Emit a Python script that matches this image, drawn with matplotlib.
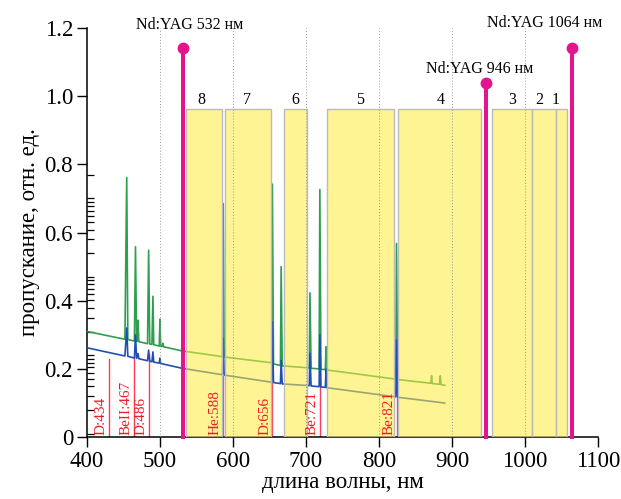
import numpy as np
import matplotlib
matplotlib.use("Agg")
import matplotlib.pyplot as plt
from matplotlib.patches import Rectangle

plt.rcParams['font.family'] = ['Liberation Serif', 'DejaVu Serif']

# спектр (верхняя кривая, зелёная)
green_wl = [400, 452, 454.5, 456, 465, 466.5, 468, 469, 470, 471, 483, 484.5, 486,
            489, 490.4, 491.5, 499, 500, 501, 503, 504, 505, 530, 585.5, 586.7, 588,
            653, 654, 655.5, 665, 666, 667.5, 704.5, 705.5, 707, 718, 719, 720.5,
            726.5, 727.5, 728.5, 823, 824, 825.5, 871, 872, 873, 883, 884, 885, 890]
green_val = [0.310, 0.287, 0.761, 0.286, 0.282, 0.558, 0.281, 0.281, 0.343, 0.280,
             0.274, 0.548, 0.273, 0.272, 0.413, 0.271, 0.267, 0.346, 0.266, 0.266,
             0.275, 0.265, 0.253, 0.236, 0.685, 0.235, 0.218, 0.742, 0.215, 0.210,
             0.500, 0.209, 0.203, 0.423, 0.202, 0.200, 0.726, 0.199, 0.198, 0.265,
             0.197, 0.170, 0.568, 0.169, 0.158, 0.180, 0.157, 0.155, 0.180, 0.154,
             0.152]

# спектр (нижняя кривая, синяя)
blue_wl = [400, 452, 454.5, 456, 465, 466.5, 468, 470, 471, 483, 484.5, 486, 489,
           490.4, 491.5, 499, 500, 501, 530, 585.5, 586.7, 588, 653, 654, 655.5,
           665, 666, 667.5, 704.5, 705.5, 707, 718, 719, 720.5, 726.5, 727.5, 728.5,
           823, 824, 825.5, 890]
blue_val = [0.262, 0.238, 0.320, 0.237, 0.232, 0.300, 0.231, 0.245, 0.230, 0.224,
            0.255, 0.223, 0.221, 0.250, 0.220, 0.217, 0.232, 0.216, 0.202, 0.183,
            0.290, 0.182, 0.161, 0.338, 0.160, 0.157, 0.225, 0.156, 0.151, 0.246,
            0.150, 0.148, 0.300, 0.147, 0.146, 0.200, 0.145, 0.118, 0.285, 0.117,
            0.100]

# спектральные линии
line_wl = [430, 464, 485, 586, 654, 719, 824]
line_top = [0.23, 0.235, 0.245, 0.18, 0.16, 0.23, 0.23]
line_names = ['D:434', 'BeII:467', 'D:486', 'He:588', 'D:656', 'Be:721', 'Be:821']

# полосы фильтров
band_lo = [535, 589, 669.5, 729, 826.5, 955, 1009, 1043]
band_hi = [585.3, 652, 701.4, 821, 939.7, 1009, 1043, 1058]
band_names = ['8', '7', '6', '5', '4', '3', '2', '1']
band_text_x = [557, 619, 685, 774, 884, 982, 1019, 1042]
band_top = 0.962

# лазеры
laser_wl = [532, 946, 1064]
laser_h = [1.14, 1.04, 1.14]
laser_names = ['Nd:YAG 532 нм', 'Nd:YAG 946 нм', 'Nd:YAG 1064 нм']
laser_text_x = [541, 938, 1027]
laser_text_y = [1.21, 1.08, 1.214]

fig = plt.figure(figsize=(6.21, 4.99), dpi=100)
ax = fig.add_axes([0.140, 0.124, 0.823, 0.820])

for x in [500, 600, 700, 800, 900, 1000]:
    ax.axvline(x, color='#999999', ls=(0, (1, 2)), lw=0.7, zorder=6)

for w, t in zip(line_wl, line_top):
    ax.plot([w, w], [0, t], color='#ff3c5a', lw=1.0, zorder=2)

ax.plot(green_wl, green_val, color='#2e9e4f', lw=1.2, zorder=3)
ax.plot(blue_wl, blue_val, color='#1f4fb5', lw=1.2, zorder=3)

for lo, hi, name, tx in zip(band_lo, band_hi, band_names, band_text_x):
    ax.add_patch(Rectangle((lo, 0), hi - lo, band_top,
                           facecolor=(1.0, 0.92, 0.24, 0.55),
                           edgecolor='#bbbbbb', lw=1.0, zorder=4))
    ax.text(tx, 0.99, name, ha='center', va='center', fontsize=11.5, zorder=8)

for w, name in zip(line_wl, line_names):
    ax.text(w - 1.5, 0.005, name, rotation=90, ha='right', va='bottom',
            color='#f01c28', fontsize=11, zorder=8)

for w, h, name, tx, ty in zip(laser_wl, laser_h, laser_names, laser_text_x, laser_text_y):
    ax.plot([w, w], [0, h], color='#e6148c', lw=2.9, zorder=7, clip_on=False)
    ax.plot([w], [h], 'o', color='#e6148c', ms=7.5, zorder=7, clip_on=False)
    ax.text(tx, ty, name, ha='center', va='center', fontsize=11.5, zorder=8, clip_on=False)

ax.set_xlim(400, 1100)
ax.set_ylim(0, 1.2)
ax.set_xticks([400, 500, 600, 700, 800, 900, 1000, 1100])
ax.set_yticks([0, 0.2, 0.4, 0.6, 0.8, 1.0, 1.2])
ax.set_yticklabels(['0', '0.2', '0.4', '0.6', '0.8', '1.0', '1.2'])

# внутренние засечки (логарифмическая шкала)
minor = []
for b in [0.01, 0.24, 0.47]:
    for k in range(1, 10):
        minor.append(b + 0.23 * np.log10(k))
minor += [0.70, 0.70 + 0.23 * np.log10(2)]
ax.set_yticks(minor, minor=True)

ax.tick_params(axis='both', which='major', direction='out', length=7, width=1,
               labelsize=16.5, pad=3)
ax.tick_params(axis='y', which='minor', direction='in', length=5, width=0.9)

for s in ['top', 'right']:
    ax.spines[s].set_visible(False)
ax.spines['left'].set_linewidth(1.1)
ax.spines['bottom'].set_linewidth(1.1)

ax.set_xlabel('длина волны, нм', fontsize=16.5, labelpad=0)
ax.set_ylabel('пропускание, отн. ед.', fontsize=16.5, labelpad=3)

fig.savefig('out.png', dpi=100)
